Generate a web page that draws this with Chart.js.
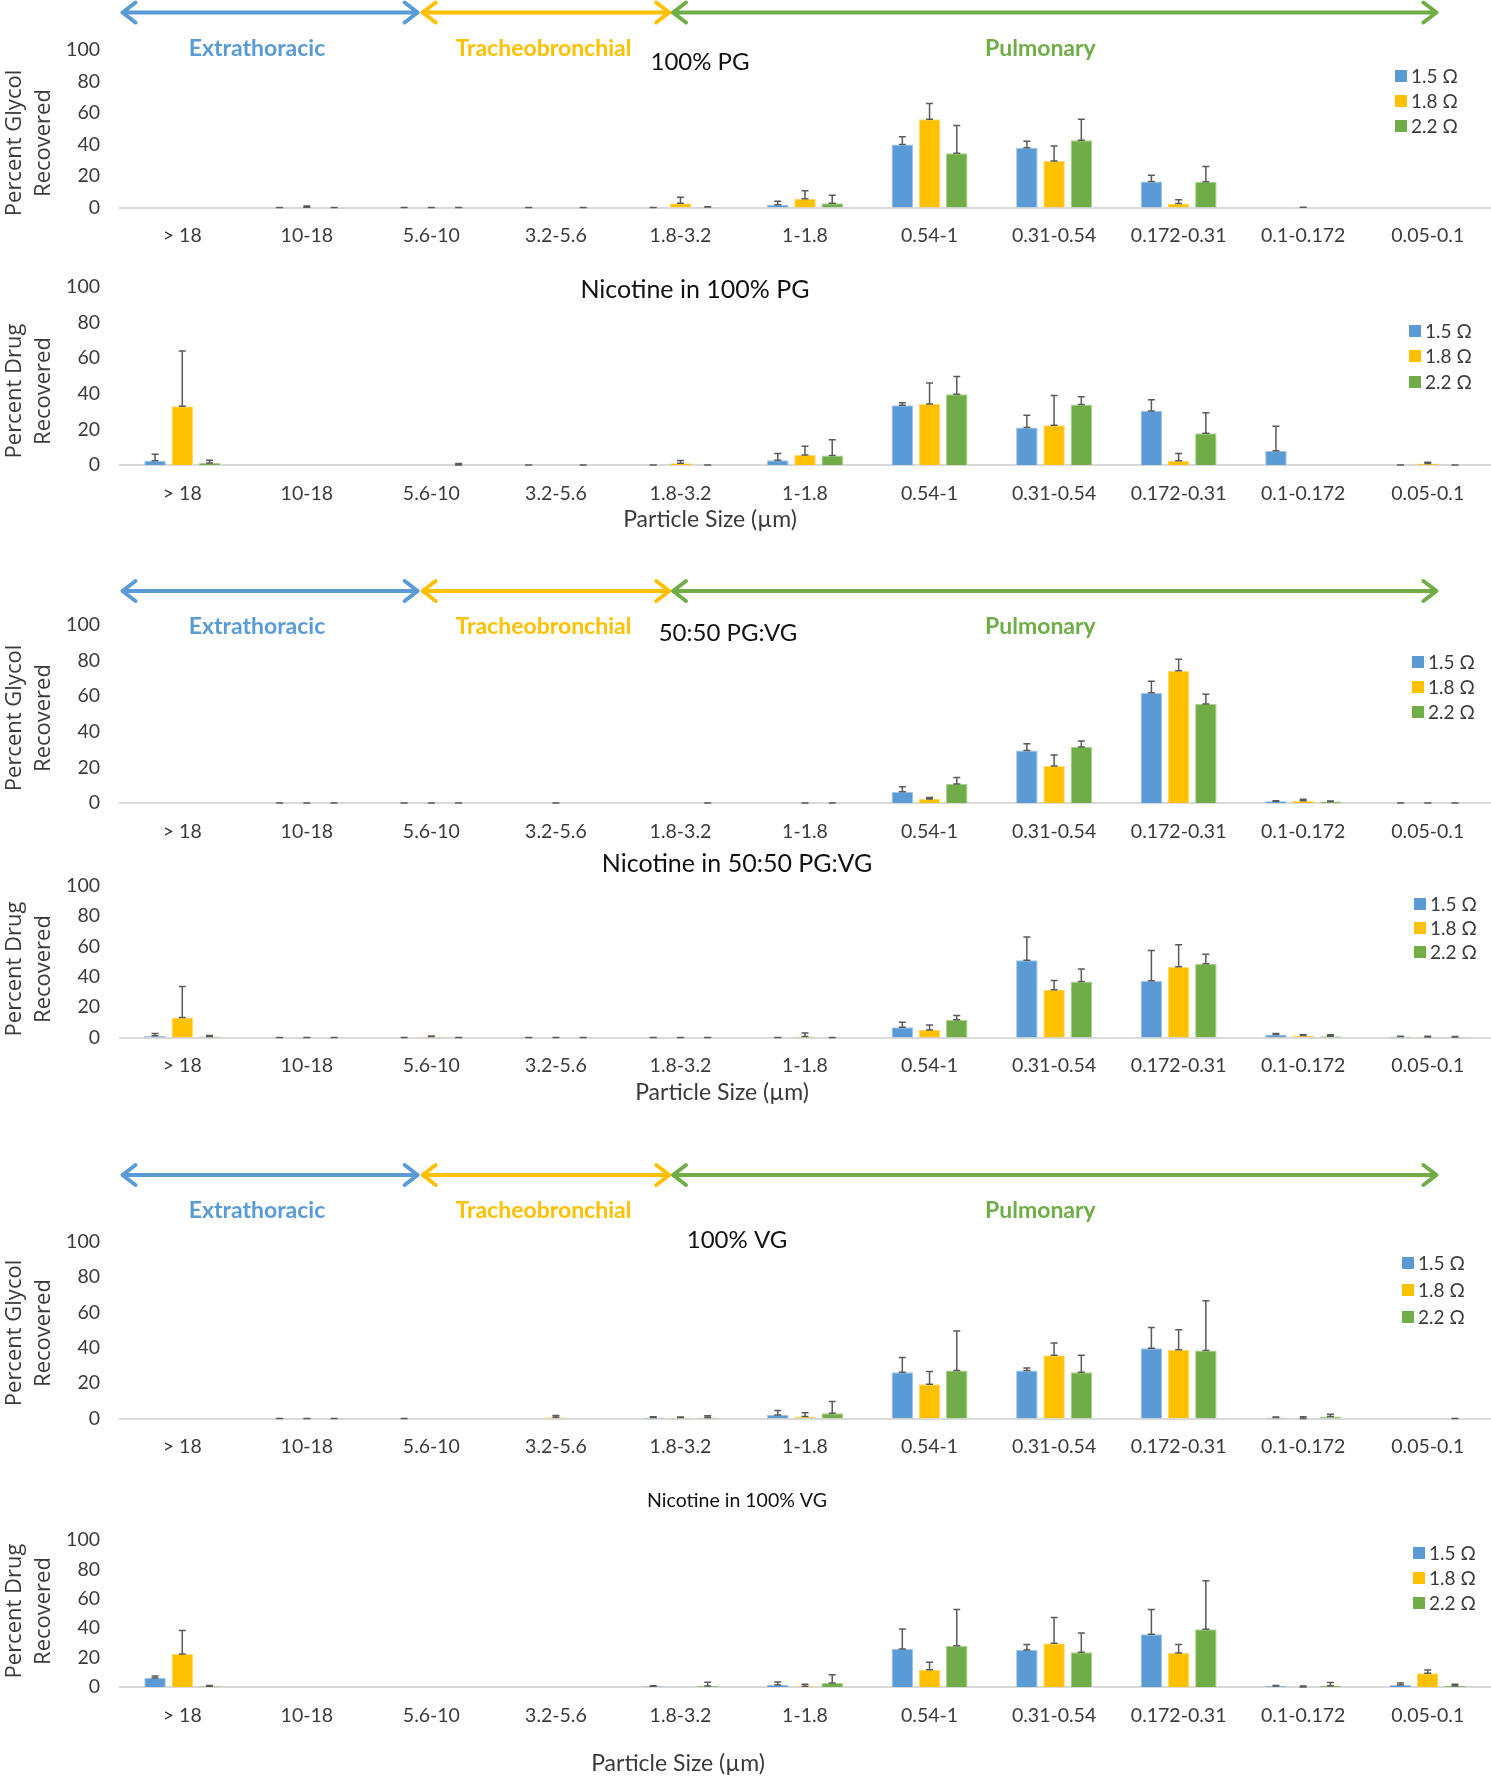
<!DOCTYPE html>
<html>
<head>
<meta charset="utf-8">
<script src="https://cdn.jsdelivr.net/npm/chart.js@4.4.1/dist/chart.umd.min.js"></script>
<style>
  body { margin: 0; background: #fff; width: 1491px; height: 1778px; position: relative; overflow: hidden; }
  canvas { position: absolute; left: 0; }
</style>
</head>
<body>
<canvas id="c1" width="1491" height="255" style="top:0px"></canvas>
<canvas id="c2" width="1491" height="285" style="top:255px"></canvas>
<canvas id="c3" width="1491" height="310" style="top:540px"></canvas>
<canvas id="c4" width="1491" height="270" style="top:850px"></canvas>
<canvas id="c5" width="1491" height="350" style="top:1120px"></canvas>
<canvas id="c6" width="1491" height="308" style="top:1470px"></canvas>
<script>
// particle size bins (µm)
const categories = ['> 18', '10-18', '5.6-10', '3.2-5.6', '1.8-3.2', '1-1.8', '0.54-1', '0.31-0.54', '0.172-0.31', '0.1-0.172', '0.05-0.1'];
const seriesNames = ['1.5 Ω', '1.8 Ω', '2.2 Ω'];
const yTicks = [0, 20, 40, 60, 80, 100];
const regionNames = ['Extrathoracic', 'Tracheobronchial', 'Pulmonary'];

// 100% PG, glycol
const glyPG15 = [null, 0, 0, 0, 0, 1.7, 40, 38, 16.5, null, null];
const glyPG15sd = [null, 0, 0, 0, 0, 2.3, 5, 4, 4, null, null];
const glyPG18 = [null, 0.2, 0, null, 2.7, 5.5, 56, 29.6, 2.5, 0.2, null];
const glyPG18sd = [null, 0.8, 0, null, 3.8, 5.1, 10, 9.4, 2.4, 0, null];
const glyPG22 = [null, 0, 0, 0, 0.3, 2.7, 34.5, 42.7, 16.3, null, null];
const glyPG22sd = [null, 0, 0, 0, 0.2, 5.1, 17.5, 13.3, 9.7, null, null];

// nicotine in 100% PG
const nicPG15 = [2.4, null, null, 0, 0, 2.6, 33.5, 21, 30.3, 8, 0];
const nicPG15sd = [3.6, null, null, 0, 0, 3.9, 1.5, 7, 6.3, 13.7, 0];
const nicPG18 = [33, null, null, null, 1, 5.6, 34.2, 22.4, 2.4, null, 0.8];
const nicPG18sd = [31, null, null, null, 1.5, 4.9, 11.8, 16.6, 4, null, 0.7];
const nicPG22 = [1.1, null, 0, 0, 0, 5.4, 39.8, 34, 17.8, null, 0];
const nicPG22sd = [1.5, null, 0.8, 0, 0, 8.8, 9.9, 4.3, 11.5, null, 0];

// 50:50 PG:VG, glycol
const glyMix15 = [null, 0, 0, null, null, null, 6.3, 29.5, 62, 1, 0];
const glyMix15sd = [null, 0, 0, null, null, null, 2.8, 3.8, 6.4, 0.3, 0];
const glyMix18 = [null, 0, 0, 0, null, 0, 2.3, 20.8, 74.3, 1.3, 0];
const glyMix18sd = [null, 0, 0, 0, null, 0, 0.8, 6.2, 6.5, 0.8, 0];
const glyMix22 = [null, 0, 0, null, 0, 0, 10.7, 31.4, 55.6, 0.8, 0];
const glyMix22sd = [null, 0, 0, null, 0, 0, 3.6, 3.5, 5.5, 0.3, 0];

// nicotine in 50:50 PG:VG
const nicMix15 = [1.1, 0, 0, 0, 0, 0, 6.8, 50.9, 37.3, 2, 0.7];
const nicMix15sd = [1.5, 0, 0, 0, 0, 0, 3.2, 15.3, 19.9, 0.6, 0.2];
const nicMix18 = [13.2, 0, 0.6, 0, 0, 0.7, 5, 31.4, 46.5, 1.3, 0.4];
const nicMix18sd = [20.3, 0, 0.4, 0, 0, 2.3, 3.3, 6.1, 14.5, 0.5, 0.5];
const nicMix22 = [0.7, 0, 0, 0, 0, 0, 11.6, 36.8, 48.5, 0.9, 0.4];
const nicMix22sd = [0.6, 0, 0, 0, 0, 0, 2.9, 8.2, 6.3, 0.9, 0.3];

// 100% VG, glycol
const glyVG15 = [null, 0, 0, null, 0.5, 2, 26.2, 27.1, 39.7, 0.6, null];
const glyVG15sd = [null, 0, 0, null, 0.5, 2.5, 8.3, 1.5, 11.7, 0.3, null];
const glyVG18 = [null, 0, null, 0.7, 0.5, 1.1, 19.4, 35.8, 38.8, 0, null];
const glyVG18sd = [null, 0, null, 1, 0.4, 2.1, 7.2, 6.8, 11.3, 1, null];
const glyVG22 = [null, 0, null, null, 0.5, 3, 27.1, 26.2, 38.4, 1.1, 0];
const glyVG22sd = [null, 0, null, null, 1.1, 6.6, 22.4, 9.6, 28.1, 1.3, 0];

// nicotine in 100% VG
const nicVG15 = [6.1, null, null, null, 0.5, 1.4, 25.9, 25.2, 35.9, 0.7, 1.4];
const nicVG15sd = [1.4, null, null, null, 0.3, 2, 13.6, 3.7, 16.8, 0.4, 1.3];
const nicVG18 = [22.5, null, null, null, null, 0.5, 11.8, 29.8, 23.2, 0, 9.3];
const nicVG18sd = [15.9, null, null, null, null, 1.3, 5, 17.5, 5.7, 0.7, 2.3];
const nicVG22 = [0.5, null, null, null, 0.6, 2.7, 28, 23.6, 39.3, 0.9, 0.9];
const nicVG22sd = [0.6, null, null, null, 2.6, 5.7, 24.7, 13.2, 33, 2.1, 0.9];

const colors = ['#5B9BD5', '#FFC000', '#70AD47'];
const edges = ['#9DC3E6', '#FFD966', '#A9D18E'];
const textColor = '#3a3a3a';

// region arrows, in category units
const regionSpans = [[-0.48, 1.89], [1.93, 3.91], [3.94, 10.07]];
const regionCenters = [0.6, 2.9, 6.89];

const panels = [
  { id: 'c1', height: 255, plotTop: 50, plotBottom: 207.5, yTitle: ['Percent Glycol', 'Recovered'], yTitleY: 143,
    title: '100% PG', titleX: 700, titleY: 62, titleSize: 24, arrowY: 12.5, regionY: 49,
    legendX: 1395, legendY: [76, 101, 126], values: [glyPG15, glyPG18, glyPG22], errors: [glyPG15sd, glyPG18sd, glyPG22sd] },
  { id: 'c2', height: 285, plotTop: 32, plotBottom: 210, yTitle: ['Percent Drug', 'Recovered'], yTitleY: 136,
    title: 'Nicotine in 100% PG', titleX: 695, titleY: 35, titleSize: 25, xTitleY: 265, xTitleX: 710,
    legendX: 1409, legendY: [76, 101, 127], values: [nicPG15, nicPG18, nicPG22], errors: [nicPG15sd, nicPG18sd, nicPG22sd] },
  { id: 'c3', height: 310, plotTop: 85, plotBottom: 263, yTitle: ['Percent Glycol', 'Recovered'], yTitleY: 178,
    title: '50:50 PG:VG', titleX: 728, titleY: 93, titleSize: 24, arrowY: 51, regionY: 87,
    legendX: 1412, legendY: [122, 147, 172], values: [glyMix15, glyMix18, glyMix22], errors: [glyMix15sd, glyMix18sd, glyMix22sd] },
  { id: 'c4', height: 270, plotTop: 35.5, plotBottom: 187.5, yTitle: ['Percent Drug', 'Recovered'], yTitleY: 119,
    title: 'Nicotine in 50:50 PG:VG', titleX: 737, titleY: 14, titleSize: 25, xTitleY: 243, xTitleX: 722,
    legendX: 1414, legendY: [54, 78, 102], values: [nicMix15, nicMix18, nicMix22], errors: [nicMix15sd, nicMix18sd, nicMix22sd] },
  { id: 'c5', height: 350, plotTop: 121.5, plotBottom: 298.5, yTitle: ['Percent Glycol', 'Recovered'], yTitleY: 213,
    title: '100% VG', titleX: 737, titleY: 120, titleSize: 24, arrowY: 55, regionY: 91,
    legendX: 1402, legendY: [143, 170, 197], values: [glyVG15, glyVG18, glyVG22], errors: [glyVG15sd, glyVG18sd, glyVG22sd] },
  { id: 'c6', height: 308, plotTop: 70, plotBottom: 217, yTitle: ['Percent Drug', 'Recovered'], yTitleY: 141,
    title: 'Nicotine in 100% VG', titleX: 737, titleY: 31, titleSize: 19.5, xTitleY: 294, xTitleX: 678,
    legendX: 1413, legendY: [83, 108, 133], values: [nicVG15, nicVG18, nicVG22], errors: [nicVG15sd, nicVG18sd, nicVG22sd] }
];

function drawArrow(ctx, x1, x2, y, color) {
  ctx.strokeStyle = color;
  ctx.lineWidth = 4;
  ctx.lineCap = 'round';
  ctx.lineJoin = 'round';
  ctx.beginPath();
  ctx.moveTo(x1, y); ctx.lineTo(x2, y);
  ctx.moveTo(x1 + 13, y - 10); ctx.lineTo(x1, y); ctx.lineTo(x1 + 13, y + 10);
  ctx.moveTo(x2 - 13, y - 10); ctx.lineTo(x2, y); ctx.lineTo(x2 - 13, y + 10);
  ctx.stroke();
}

const decor = {
  id: 'decor',
  afterDatasetsDraw(chart, args, opts) {
    const p = panels[opts.idx];
    const ctx = chart.ctx;
    const ys = chart.scales.y;
    ctx.save();
    ctx.strokeStyle = '#5a5a5a';
    ctx.lineWidth = 1.5;
    chart.data.datasets.forEach((ds, i) => {
      chart.getDatasetMeta(i).data.forEach((bar, j) => {
        const v = p.values[i][j];
        if (v === null) return;
        const y0 = ys.getPixelForValue(v);
        const y1 = ys.getPixelForValue(v + p.errors[i][j]);
        ctx.beginPath();
        ctx.moveTo(bar.x, y0); ctx.lineTo(bar.x, y1);
        ctx.moveTo(bar.x - 3.5, y1); ctx.lineTo(bar.x + 3.5, y1);
        ctx.moveTo(bar.x - 3.5, y0); ctx.lineTo(bar.x + 3.5, y0);
        ctx.stroke();
      });
    });
    ctx.restore();
  },
  afterDraw(chart, args, opts) {
    const p = panels[opts.idx];
    const ctx = chart.ctx;
    const xs = chart.scales.x;
    ctx.save();
    if (p.arrowY !== undefined) {
      regionSpans.forEach((s, i) => drawArrow(ctx, xs.getPixelForValue(s[0]), xs.getPixelForValue(s[1]), p.arrowY, colors[i]));
      ctx.font = 'bold 23px Lato';
      ctx.textAlign = 'center';
      ctx.textBaseline = 'middle';
      regionNames.forEach((name, i) => {
        ctx.fillStyle = colors[i];
        ctx.fillText(name, xs.getPixelForValue(regionCenters[i]), p.regionY);
      });
    }
    ctx.fillStyle = '#111';
    ctx.font = p.titleSize + 'px Lato';
    ctx.textAlign = 'center';
    ctx.textBaseline = 'middle';
    ctx.fillText(p.title, p.titleX, p.titleY);
    if (p.xTitleY !== undefined) {
      ctx.fillStyle = textColor;
      ctx.font = '23px Lato';
      ctx.fillText('Particle Size (µm)', p.xTitleX, p.xTitleY);
    }
    // y axis title, two rotated lines
    ctx.save();
    ctx.translate(0, p.yTitleY);
    ctx.rotate(-Math.PI / 2);
    ctx.fillStyle = textColor;
    ctx.font = '22px "Open Sans"';
    ctx.fillText(p.yTitle[0], 0, 15);
    ctx.fillText(p.yTitle[1], 0, 44);
    ctx.restore();
    // legend
    ctx.textAlign = 'left';
    ctx.font = '19px Lato';
    seriesNames.forEach((name, i) => {
      const y = p.legendY[i];
      ctx.fillStyle = colors[i];
      ctx.fillRect(p.legendX, y - 6, 12, 12);
      ctx.fillStyle = textColor;
      ctx.fillText(name, p.legendX + 16, y + 1);
    });
    ctx.restore();
  }
};

panels.forEach((p, k) => {
  new Chart(document.getElementById(p.id), {
    type: 'bar',
    data: {
      labels: categories,
      datasets: seriesNames.map((name, i) => ({
        label: name,
        data: p.values[i],
        backgroundColor: colors[i],
        borderColor: edges[i],
        borderWidth: 1,
        categoryPercentage: 0.656,
        barPercentage: 0.79
      }))
    },
    options: {
      responsive: false,
      animation: false,
      layout: { padding: { top: p.plotTop, left: 0, right: 1, bottom: 0 } },
      plugins: { legend: { display: false }, tooltip: { enabled: false }, decor: { idx: k } },
      scales: {
        x: {
          grid: { display: false, drawTicks: false },
          border: { color: '#d9d9d9', width: 2 },
          ticks: { padding: 17, color: textColor, font: { family: 'Lato', size: 19.5 }, maxRotation: 0, autoSkip: false },
          afterFit: s => { s.height = p.height - p.plotBottom; }
        },
        y: {
          min: 0, max: 100,
          grid: { display: false, drawTicks: false },
          border: { display: false },
          ticks: { padding: 20, color: textColor, font: { family: 'Lato', size: 19.5 } },
          afterBuildTicks: s => { s.ticks = yTicks.map(v => ({ value: v })); },
          afterFit: s => { s.width = 120; }
        }
      }
    },
    plugins: [decor]
  });
});
</script>
</body>
</html>
